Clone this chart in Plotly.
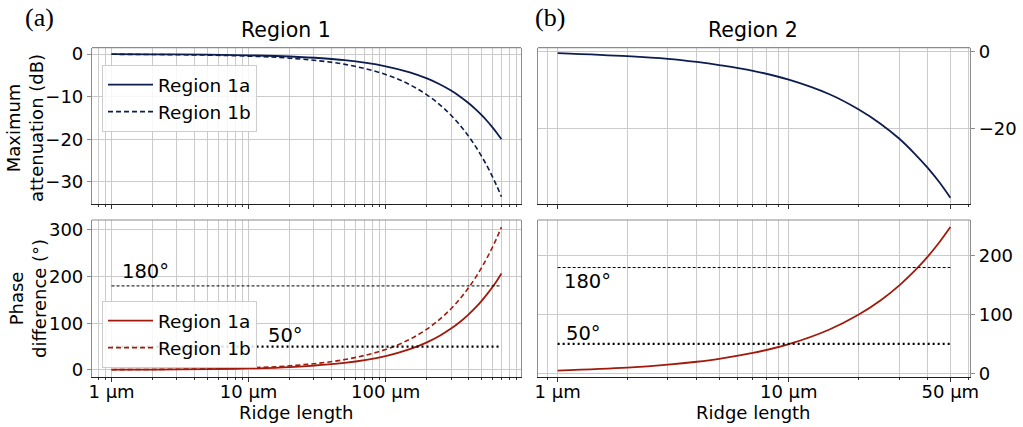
import plotly.graph_objects as go

# ---------------- data ----------------
len_r1 = [1, 2, 5, 10, 20, 50, 100, 150, 200, 250, 300, 350, 400, 450, 500, 550, 600, 650, 700]
att_r1a = [-0.03, -0.06, -0.14, -0.29, -0.57, -1.43, -2.86, -4.29, -5.71, -7.14, -8.57, -10.0,
           -11.43, -12.86, -14.29, -15.71, -17.14, -18.57, -20.0]
att_r1b = [-0.05, -0.1, -0.24, -0.48, -0.96, -2.39, -4.79, -7.18, -9.57, -11.96, -14.36, -16.75,
           -19.14, -21.54, -23.93, -26.32, -28.71, -31.11, -33.5]
ph_r1a = [0.3, 0.6, 1.5, 3.0, 5.9, 14.8, 29.5, 44.3, 59.0, 73.8, 88.5, 103.3, 118.0, 132.8,
          147.5, 162.3, 177.0, 191.8, 206.5]
ph_r1b = [0.4, 0.9, 2.2, 4.4, 8.7, 21.9, 43.7, 65.6, 87.4, 109.3, 131.1, 153.0, 174.9, 196.7,
          218.6, 240.4, 262.3, 284.1, 306.0]

len_r2 = [1, 2, 3, 4, 5, 7, 10, 15, 20, 25, 30, 35, 40, 45, 50]
att_r2 = [-0.4, -1.2, -1.9, -2.7, -3.5, -5.0, -7.3, -11.1, -15.0, -18.8, -22.6, -26.5,
          -30.3, -34.1, -38.0]
ph_r2 = [4.5, 9.5, 14.5, 19.5, 24.5, 34.5, 49.5, 74.5, 99.5, 124.4, 149.3, 174.2, 199.1, 224.0, 249.0]

ref_levels = [180, 50]
ref_labels = ["180°", "50°"]

x1_major = [1, 10, 100]
x1_major_text = ["1 µm", "10 µm", "100 µm"]
x1_minor = [0.8, 0.9, 2, 3, 4, 5, 6, 7, 8, 9, 20, 30, 40, 50, 60, 70, 80, 90,
            200, 300, 400, 500, 600, 700, 800, 900]
x2_major = [1, 10, 50]
x2_major_text = ["1 µm", "10 µm", "50 µm"]
x2_minor = [0.9, 2, 3, 4, 5, 6, 7, 8, 9, 20, 30, 40, 60]

NAVY = "#0e1d4f"
RED = "#a11a0c"
FONT = "DejaVu Sans"
W, H = 1023, 427
FS = 18

fig = go.Figure()

fig.add_trace(go.Scatter(x=len_r1, y=att_r1a, mode="lines", name="Region 1a",
                         line=dict(color=NAVY, width=1.8, shape="spline"),
                         xaxis="x", yaxis="y", legend="legend"))
fig.add_trace(go.Scatter(x=len_r1, y=att_r1b, mode="lines", name="Region 1b",
                         line=dict(color=NAVY, width=1.6, dash="5px,3px", shape="spline"),
                         xaxis="x", yaxis="y", legend="legend"))
fig.add_trace(go.Scatter(x=len_r2, y=att_r2, mode="lines", showlegend=False,
                         line=dict(color=NAVY, width=1.8, shape="spline"),
                         xaxis="x2", yaxis="y2"))
fig.add_trace(go.Scatter(x=len_r1, y=ph_r1a, mode="lines", name="Region 1a",
                         line=dict(color=RED, width=1.8, shape="spline"),
                         xaxis="x3", yaxis="y3", legend="legend2"))
fig.add_trace(go.Scatter(x=len_r1, y=ph_r1b, mode="lines", name="Region 1b",
                         line=dict(color=RED, width=1.6, dash="5px,3px", shape="spline"),
                         xaxis="x3", yaxis="y3", legend="legend2"))
fig.add_trace(go.Scatter(x=len_r2, y=ph_r2, mode="lines", showlegend=False,
                         line=dict(color=RED, width=1.8, shape="spline"),
                         xaxis="x4", yaxis="y4"))

for xs, xa, ya in [(len_r1, "x3", "y3"), (len_r2, "x4", "y4")]:
    fig.add_trace(go.Scatter(x=[xs[0], xs[-1]], y=[ref_levels[0]] * 2, mode="lines",
                             showlegend=False, line=dict(color="black", width=1, dash="3px,2px"),
                             xaxis=xa, yaxis=ya))
    fig.add_trace(go.Scatter(x=[xs[0], xs[-1]], y=[ref_levels[1]] * 2, mode="lines",
                             showlegend=False, line=dict(color="black", width=2.2, dash="2px,3px"),
                             xaxis=xa, yaxis=ya))

def px_x(p):
    return p / W

def px_y(p):
    return 1 - p / H

dom_xl = [px_x(92), px_x(521)]
dom_xr = [px_x(538), px_x(970)]
dom_yt = [px_y(204), px_y(47.7)]
dom_yb = [px_y(377), px_y(220)]

GRID = "#cbcbcb"
FRAME = "#8c8c8c"
tickfont = dict(family=FONT, size=FS, color="black")

def xaxis(domain, rng, major, major_text, minor, anchor, labels):
    return dict(type="log", domain=domain, range=rng, anchor=anchor,
                tickmode="array", tickvals=major, ticktext=major_text,
                showticklabels=labels, ticks="outside", ticklen=4, tickcolor="#333",
                ticklabelstandoff=-6,
                showgrid=True, gridcolor=GRID, gridwidth=1,
                minor=dict(tickmode="array", tickvals=minor, showgrid=True, gridcolor=GRID,
                           gridwidth=1, ticks="outside", ticklen=2, tickcolor="#333"),
                showline=True, linecolor="#222", linewidth=1.2, mirror=False,
                zeroline=False, tickfont=tickfont, automargin=False)

def yaxis(domain, rng, vals, anchor, side):
    return dict(domain=domain, range=rng, anchor=anchor, side=side,
                tickmode="array", tickvals=vals, ticks="outside", ticklen=4,
                tickcolor=FRAME, showgrid=True, gridcolor=GRID, gridwidth=1,
                showline=True, linecolor=FRAME, linewidth=1.2, mirror=True,
                zeroline=False, tickfont=tickfont, automargin=False)

r1 = [-0.1425, 2.9876]
r2 = [-0.085, 1.784]

fig.update_layout(
    width=W, height=H, margin=dict(l=0, r=0, t=0, b=0, autoexpand=False),
    paper_bgcolor="white", plot_bgcolor="white",
    font=dict(family=FONT, size=FS, color="black"),
    xaxis=xaxis(dom_xl, r1, x1_major, x1_major_text, x1_minor, "y", False),
    yaxis=yaxis(dom_yt, [-35.2, 1.5], [-30, -20, -10, 0], "x", "left"),
    xaxis2=xaxis(dom_xr, r2, x2_major, x2_major_text, x2_minor, "y2", False),
    yaxis2=yaxis(dom_yt, [-39.6, 1.0], [-20, 0], "x2", "right"),
    xaxis3=xaxis(dom_xl, r1, x1_major, x1_major_text, x1_minor, "y3", True),
    yaxis3=yaxis(dom_yb, [-15.3, 321.3], [0, 100, 200, 300], "x3", "left"),
    xaxis4=xaxis(dom_xr, r2, x2_major, x2_major_text, x2_minor, "y4", True),
    yaxis4=yaxis(dom_yb, [-6.5, 261], [0, 100, 200], "x4", "right"),
    legend=dict(x=px_x(102), y=px_y(65), xanchor="left", yanchor="top",
                bgcolor="rgba(255,255,255,0.85)", bordercolor="#cccccc", borderwidth=1,
                font=dict(family=FONT, size=18.5, color="black"), itemwidth=45,
                tracegroupgap=0),
    legend2=dict(x=px_x(102), y=px_y(301), xanchor="left", yanchor="top",
                 bgcolor="rgba(255,255,255,0.85)", bordercolor="#cccccc", borderwidth=1,
                 font=dict(family=FONT, size=18.5, color="black"), itemwidth=45,
                 tracegroupgap=0),
)

for xr, yr in [("x", "y"), ("x2", "y2"), ("x3", "y3"), ("x4", "y4")]:
    fig.add_shape(type="line", xref=f"{xr} domain", yref=f"{yr} domain",
                  x0=0, x1=1, y0=1, y1=1, line=dict(color=FRAME, width=1.2))

ann = []
def text(x, y, s, size=FS, family=FONT, angle=0, xanchor="center"):
    ann.append(dict(x=px_x(x), y=px_y(y), xref="paper", yref="paper", text=s,
                    showarrow=False, xanchor=xanchor, yanchor="middle",
                    textangle=angle, font=dict(family=family, size=size, color="black")))

text(286, 30, "Region 1", size=20.5)
text(753, 30, "Region 2", size=20.5)
text(39, 17, "(a)", size=26, family="Liberation Serif")
text(550, 17, "(b)", size=26, family="Liberation Serif")
text(25, 128, "Maximum<br>attenuation (dB)", angle=-90)
text(28, 299, "Phase<br>difference (°)", angle=-90)
text(296, 412, "Ridge length")
text(753, 412, "Ridge length")
fig.update_layout(annotations=ann)

lab = dict(family=FONT, size=19.5, color="black")
fig.add_annotation(x=0.06, y=211, xref="x3", yref="y3", text=ref_labels[0], showarrow=False,
                   xanchor="left", yanchor="middle", font=lab)
fig.add_annotation(x=1.125, y=74, xref="x3", yref="y3", text=ref_labels[1], showarrow=False,
                   xanchor="left", yanchor="middle", font=lab)
fig.add_annotation(x=0.017, y=157, xref="x4", yref="y4", text=ref_labels[0], showarrow=False,
                   xanchor="left", yanchor="middle", font=lab)
fig.add_annotation(x=0.027, y=68, xref="x4", yref="y4", text=ref_labels[1], showarrow=False,
                   xanchor="left", yanchor="middle", font=lab)

fig.write_html("out.html", config={"displayModeBar": False},
               post_script="document.body.style.margin='0';document.body.style.padding='0';")
